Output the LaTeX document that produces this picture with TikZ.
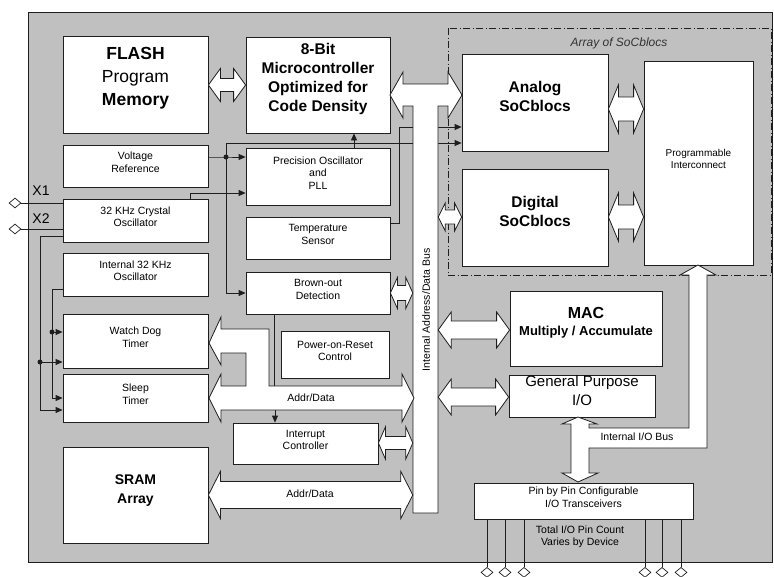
\documentclass[tikz,border=0pt]{standalone}
\usepackage{fontspec}
\setmainfont{Liberation Sans}
\usetikzlibrary{shapes.geometric, arrows.meta, positioning, fit, calc}

\definecolor{chipgray}{RGB}{192,192,192}
\definecolor{edge}{RGB}{30,30,30}

% double headed block arrow: from, to, y, shaft half width, head half width, head length
\newcommand{\fatarrow}[6]{%
  \draw[fat] let \p1=#1, \p2=#2, \p3=(0,#3) in
    (\x1,\y3) -- (\x1+#6,\y3+#5) -- (\x1+#6,\y3+#4) -- (\x2-#6,\y3+#4) -- (\x2-#6,\y3+#5)
    -- (\x2,\y3) -- (\x2-#6,\y3-#5) -- (\x2-#6,\y3-#4) -- (\x1+#6,\y3-#4) -- (\x1+#6,\y3-#5) -- cycle;}

\begin{document}
\begin{tikzpicture}[
    x=1pt, y=-1pt,
    blk/.style={draw=edge, fill=white, line width=0.8pt, inner sep=0pt, align=center, font=\fontsize{10.5}{12.5}\selectfont},
    bigblk/.style={blk, font=\bfseries\fontsize{15.5}{19}\selectfont},
    sig/.style={draw=edge, line width=0.8pt, -{Triangle[length=7pt,width=6pt]}},
    wire/.style={draw=edge, line width=0.8pt},
    fat/.style={draw=edge, fill=white, line width=0.8pt, line join=miter},
    pin/.style={diamond, draw=edge, fill=white, line width=0.7pt, inner sep=0pt, minimum width=12pt, minimum height=10pt},
    lbl/.style={font=\fontsize{10.5}{12.5}\selectfont, align=center}
]
\useasboundingbox (0,0) rectangle (774,576);

% Chip outline
\draw[edge, fill=chipgray, line width=0.8pt] (28,12) rectangle (772,562);
\draw[edge, line width=0.7pt, dash pattern=on 7pt off 2.5pt on 1pt off 2.5pt] (448,28) rectangle (771,275);
\node[font=\itshape\fontsize{12}{14}\selectfont, text=black!80] (arraylbl) at (619,43) {Array of SoCblocs};

% Left column
\node[blk, fit={(63,36) (208,133)}, font=\fontsize{17.5}{23}\selectfont] (flash) {{\bfseries FLASH}\\Program\\{\bfseries Memory}};
\node[blk, fit={(63,145) (208,187)}] (vref) {Voltage\\Reference};
\node[blk, fit={(63,199) (208,242)}] (xtal) {32 KHz Crystal\\Oscillator};
\node[blk, fit={(63,253) (208,296)}] (iosc) {Internal 32 KHz\\Oscillator};
\node[blk, fit={(63,314) (208,368)}] (wdt) {Watch Dog\\Timer};
\node[blk, fit={(63,374) (208,422)}] (sleep) {Sleep\\Timer};
\node[bigblk, fit={(63,447) (208,543)}, font=\bfseries\fontsize{14}{19}\selectfont] (sram) {SRAM\\Array};

% Middle column
\node[bigblk, fit={(246,37) (390,133)}] (mcu) {8-Bit\\Microcontroller\\Optimized for\\Code Density};
\node[blk, fit={(246,148) (390,205)}] (pll) {Precision Oscillator\\and\\PLL};
\node[blk, fit={(246,217) (390,259)}] (temp) {Temperature\\Sensor};
\node[blk, fit={(246,272) (390,314)}] (bod) {Brown-out\\Detection};
\node[blk, fit={(281,331) (389,378)}] (por) {Power-on-Reset\\Control};
\node[blk, fit={(233,423) (378,464)}] (intc) {Interrupt\\Controller};

% Right side
\node[bigblk, fit={(462,54) (608,151)}] (analog) {Analog\\SoCblocs};
\node[bigblk, fit={(462,169) (608,266)}] (digital) {Digital\\SoCblocs};
\node[blk, fit={(644,61) (753,265)}, font=\fontsize{10}{12}\selectfont] (prog) {Programmable\\Interconnect};
\node[blk, fit={(510,291) (662,366)}, font=\bfseries\fontsize{13}{17}\selectfont] (mac) {{\fontsize{16}{17}\selectfont MAC}\\Multiply / Accumulate};
\node[blk, fit={(509,375) (655,417)}, font=\fontsize{15}{19}\selectfont] (gpio) {General Purpose\\I/O};
\node[blk, fit={(474,483) (693,519)}] (pins) {Pin by Pin Configurable\\I/O Transceivers};
\node[lbl] (pincount) at (580,537) {Total I/O Pin Count\\Varies by Device};

% Crystal pins
\node[pin] (x1) at (15,203) {};
\node[pin] (x2) at (15,229) {};
\draw[wire] (x1.east) -- (x1.east -| xtal.west);
\draw[wire] (x2.east) -- (x2.east -| xtal.west);
\node[font=\fontsize{14}{16}\selectfont] (x1lbl) at (41,191) {X1};
\node[font=\fontsize{14}{16}\selectfont] (x2lbl) at (41,219) {X2};

% Clock and reference signals
\coordinate (vdot) at (226,157);
\coordinate (vtop) at (226,143);
\draw[sig] (vref.east |- vdot) -- (vdot) -- (vdot -| pll.west);
\draw[sig] (vdot) -- (vtop) -- (vtop -| analog.west);
\draw[sig] (vdot) |- (bod.west);
\fill[edge] (vdot) circle (2.5pt);
\coordinate (xtop) at (190,193);
\draw[sig] (xtop |- xtal.north) -- (xtop) -- (xtop -| pll.west);
\draw[sig] ([xshift=36pt]pll.north) -- ([xshift=36pt]pll.north |- mcu.south);
\coordinate (tturn) at (399,127);
\draw[sig] ([yshift=15pt]temp.east) -| (tturn) -- (tturn -| analog.west);

% Timer clocks
\coordinate (xl) at (40,236);
\coordinate (xm) at (40,362);
\coordinate (xb) at (40,410);
\draw[sig] (xl -| xtal.west) -- (xl) -- (xb) -- (xb -| sleep.west);
\draw[sig] (xm) -- (xm -| wdt.west);
\fill[edge] (xm) circle (2.5pt);
\coordinate (il) at (52,289);
\coordinate (im) at (52,332);
\coordinate (ib) at (52,398);
\draw[sig] (il -| iosc.west) -- (il) -- (ib) -- (ib -| sleep.west);
\draw[sig] (im) -- (im -| wdt.west);
\fill[edge] (im) circle (2.5pt);

% Internal address/data bus
\node[fit={(413,108) (438,513)}, inner sep=0pt] (bus) {};
\draw[fat] (390,95) -- (403,72) -- (403,84) -- (448,84) -- (448,72) -- (462,95) -- (448,118) -- (448,106)
    -- (438,106) -- (438,513) -- (413,513) -- (413,106) -- (403,106) -- (403,118) -- cycle;
\node[lbl, rotate=90] (buslbl) at (426,310) {Internal Address/Data Bus};

% Block arrows
\fatarrow{(flash.east)}{(mcu.west)}{85}{6.5}{16.5}{12}
\fatarrow{(analog.east)}{(prog.west)}{109}{12}{24}{10}
\fatarrow{(digital.east)}{(prog.west)}{217}{12}{24}{10}
\fatarrow{(bus.east)}{(digital.west)}{217}{7}{14}{7}
\fatarrow{(bod.east)}{(bus.west)}{293}{7.5}{15.5}{7}
\fatarrow{(intc.east)}{(bus.west)}{443}{6.5}{16}{7}
\fatarrow{(bus.east)}{(mac.west)}{330}{9}{18}{13}
\fatarrow{(bus.east)}{(gpio.west)}{397}{9}{18}{13}
\fatarrow{(sram.east)}{(bus.west)}{495}{13.5}{23.5}{12}
\node[lbl] (sramlbl) at (310,494) {Addr/Data};

% Timer addr/data fork
\draw[fat] (209,343) -- (221,317) -- (221,329) -- (269,329) -- (269,386) -- (402,386) -- (402,374)
    -- (414,398) -- (402,422) -- (402,410) -- (221,410) -- (221,422) -- (209,398) -- (221,374)
    -- (221,386) -- (246,386) -- (246,353) -- (221,353) -- (221,365) -- cycle;
\node[lbl] (timerlbl) at (311,398) {Addr/Data};

% Brown-out and interrupt taps
\draw[wire] ([xshift=-44pt]bod.south) -- ++(0,72);
\draw[sig] (275,410) -- ([xshift=-30.5pt]intc.north);

% Internal I/O bus
\draw[fat] (578,417) -- (597,424) -- (589,424) -- (589,428) -- (689,428) -- (689,275) -- (680,275)
    -- (698,265) -- (716,275) -- (707,275) -- (707,448) -- (589,448) -- (589,473) -- (598,473)
    -- (578,482) -- (562,473) -- (571,473) -- (571,424) -- (562,424) -- cycle;
\node[lbl] (iobuslbl) at (637,437) {Internal I/O Bus};

% I/O pins
\foreach \px in {487,505,524,645,662,681}
  \draw[wire] (\px,519) -- (\px,567) node[pin, anchor=north] {};

\end{tikzpicture}
\end{document}
